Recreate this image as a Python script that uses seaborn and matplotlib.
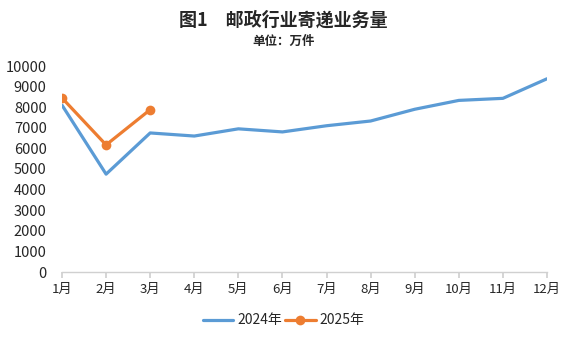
import matplotlib
matplotlib.use("Agg")
import matplotlib.pyplot as plt
import seaborn as sns
import pandas as pd

months = ["1月", "2月", "3月", "4月", "5月", "6月", "7月", "8月", "9月", "10月", "11月", "12月"]
vals_2024 = [8100, 4750, 6750, 6600, 6950, 6800, 7100, 7330, 7900, 8330, 8430, 9380]
months_2025 = ["1月", "2月", "3月"]
vals_2025 = [8450, 6170, 7880]
yticks = list(range(0, 10001, 1000))

sns.set_theme(style="white")
plt.rcParams["font.family"] = ["Noto Sans CJK SC", "DejaVu Sans"]

df24 = pd.DataFrame({"month": months, "value": vals_2024})
df25 = pd.DataFrame({"month": months_2025, "value": vals_2025})

fig = plt.figure(figsize=(5.67, 3.41), dpi=100)
ax = fig.add_axes([62 / 567, 1 - 272 / 341, (547 - 62) / 567, (272 - 66) / 341])

blue = "#5B9BD5"
orange = "#ED7D31"
sns.lineplot(data=df24, x="month", y="value", ax=ax, color=blue, linewidth=2.3,
             sort=False, label="2024年")
sns.lineplot(data=df25, x="month", y="value", ax=ax, color=orange, linewidth=2.3,
             marker="o", markersize=7, markeredgewidth=0, sort=False, label="2025年")

ax.set_xlim(0, len(months) - 1)
ax.set_ylim(0, 10000)
ax.set_yticks(yticks)
ax.set_yticklabels([str(v) for v in yticks], fontsize=10.5)
ax.set_xticks(range(len(months)))
ax.set_xticklabels(months, fontsize=9.5)
ax.set_xlabel("")
ax.set_ylabel("")
for s in ["left", "right", "top"]:
    ax.spines[s].set_visible(False)
ax.spines["bottom"].set_color("#D0D0D0")
ax.spines["bottom"].set_linewidth(1)
ax.tick_params(axis="x", which="major", bottom=True, length=4, color="#D0D0D0", pad=4)
ax.tick_params(axis="y", left=False, pad=5)
ax.grid(False)

fig.text(0.5, 1 - 20 / 341, "图1　邮政行业寄递业务量", ha="center", va="center",
         fontsize=13, fontweight="bold")
fig.text(0.5, 1 - 41 / 341, "单位：万件", ha="center", va="center",
         fontsize=9, fontweight="bold")

ax.legend(loc="center", bbox_to_anchor=(0.457, -0.235), ncol=2, frameon=False,
          fontsize=10, handlelength=2.2, columnspacing=0.2, handletextpad=0.3)

fig.savefig("out.png", dpi=100)
